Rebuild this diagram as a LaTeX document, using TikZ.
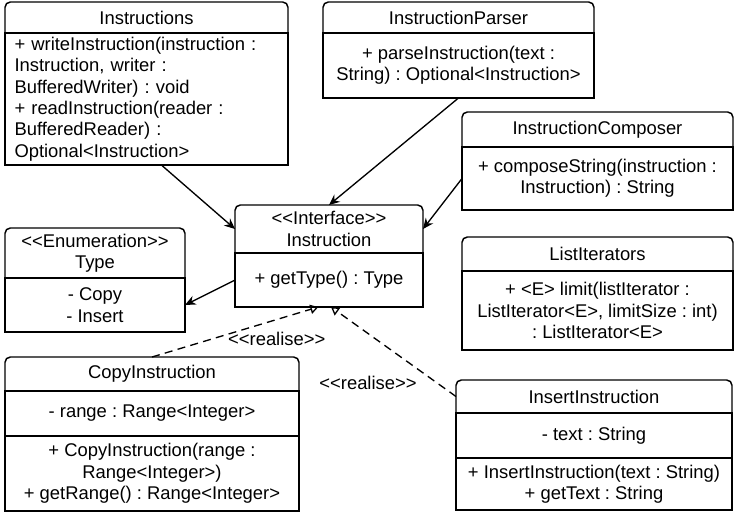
\documentclass[tikz,border=0pt]{standalone}
\usepackage{fontspec}
\setmainfont{Liberation Sans}[Ligatures=ResetAll]
\usetikzlibrary{arrows.meta, positioning}
\frenchspacing

\begin{document}
\begin{tikzpicture}[
  x=0.75pt, y=-0.75pt,
  font=\fontsize{13.8}{16}\selectfont,
  head/.style={inner sep=2pt, outer sep=0pt, align=center},
  part/.style={draw, line width=1.1pt, inner sep=3pt, outer sep=0pt, align=center},
  arrow/.style={-{Stealth[length=8pt, width=7pt]}, line width=1pt},
  real/.style={-{Triangle[open, length=6pt, width=7pt]}, dash pattern=on 6pt off 4pt, line width=1pt},
  lbl/.style={inner sep=1pt}
]
\useasboundingbox (0,0) rectangle (740,519);

% Classes
\node[head, minimum width=212.25pt, minimum height=23.25pt, anchor=north west] (instrs) at (5,2) {Instructions};
\node[part, text width=198pt, inner xsep=7pt, minimum height=97.5pt, align=left, below=0pt of instrs] (instrs-ops)
  {+ writeInstruction(instruction :\\Instruction, writer :\\BufferedWriter) : void\\+ readInstruction(reader :\\BufferedReader) :\\Optional<Instruction>};

\node[head, minimum width=203.25pt, minimum height=23.25pt, anchor=north west] (parser) at (323,2) {InstructionParser};
\node[part, minimum width=203.25pt, minimum height=48.75pt, below=0pt of parser] (parser-ops)
  {+ parseInstruction(text :\\String) : Optional<Instruction>};

\node[head, minimum width=203.25pt, minimum height=26.25pt, anchor=north west] (composer) at (462,112) {InstructionComposer};
\node[part, minimum width=203.25pt, minimum height=47.25pt, below=0pt of composer] (composer-ops)
  {+ composeString(instruction :\\Instruction) : String};

\node[head, minimum width=141pt, minimum height=36pt, anchor=north west] (iface) at (235,205) {<{}<Interface>{}>\\Instruction};
\node[part, minimum width=141pt, minimum height=40.5pt, below=0pt of iface] (iface-ops) {+ getType() : Type};

\node[head, minimum width=135pt, minimum height=37.5pt, anchor=north west] (type) at (5,228) {<{}<Enumeration>{}>\\Type};
\node[part, minimum width=135pt, minimum height=40.5pt, below=0pt of type] (type-vals) {- Copy\\- Insert};

\node[head, minimum width=203.25pt, minimum height=25.5pt, anchor=north west] (listit) at (462,237) {ListIterators};
\node[part, minimum width=203.25pt, minimum height=59.25pt, below=0pt of listit] (listit-ops)
  {+ <E> limit(listIterator :\\ListIterator<E>, limitSize : int)\\: ListIterator<E>};

\node[head, minimum width=220.5pt, minimum height=25.5pt, anchor=north west] (copy) at (5,357) {CopyInstruction};
\node[part, minimum width=220.5pt, minimum height=33.75pt, below=0pt of copy] (copy-att) {- range : Range<Integer>};
\node[part, minimum width=220.5pt, minimum height=56.25pt, below=0pt of copy-att] (copy-ops)
  {+ CopyInstruction(range :\\Range<Integer>)\\+ getRange() : Range<Integer>};

\node[head, minimum width=207pt, minimum height=24.75pt, anchor=north west] (insert) at (456,380) {InsertInstruction};
\node[part, minimum width=207pt, minimum height=33.75pt, below=0pt of insert] (insert-att) {- text : String};
\node[part, minimum width=207pt, minimum height=39pt, below=0pt of insert-att] (insert-ops)
  {+ InsertInstruction(text : String)\\+ getText : String};

% Header outlines, rounded on top only
\foreach \n in {instrs, parser, composer, iface, type, listit, copy, insert}
  \draw[line width=1.1pt] (\n.south west) -- ([yshift=-4pt]\n.north west)
    arc[start angle=180, end angle=90, radius=4pt] -- ([xshift=-4pt]\n.north east)
    arc[start angle=90, end angle=0, radius=4pt] -- (\n.south east);

% Associations
\draw[arrow] ([xshift=11pt]instrs-ops.south) -- (iface.west);
\draw[arrow] (parser-ops.south) -- (iface.north);
\draw[arrow] (composer-ops.west) -- (iface.east);
\draw[arrow] (iface-ops.west) -- (type-vals.east);

% Realisations
\draw[real] (copy.north) -- node[lbl, pos=0.75, below=8pt] (real1) {<{}<realise>{}>} ([xshift=-8pt]iface-ops.south);
\draw[real] (insert.west) -- node[lbl, pos=0.15, left=14pt] (real2) {<{}<realise>{}>} ([xshift=1.5pt]iface-ops.south);

\end{tikzpicture}
\end{document}
